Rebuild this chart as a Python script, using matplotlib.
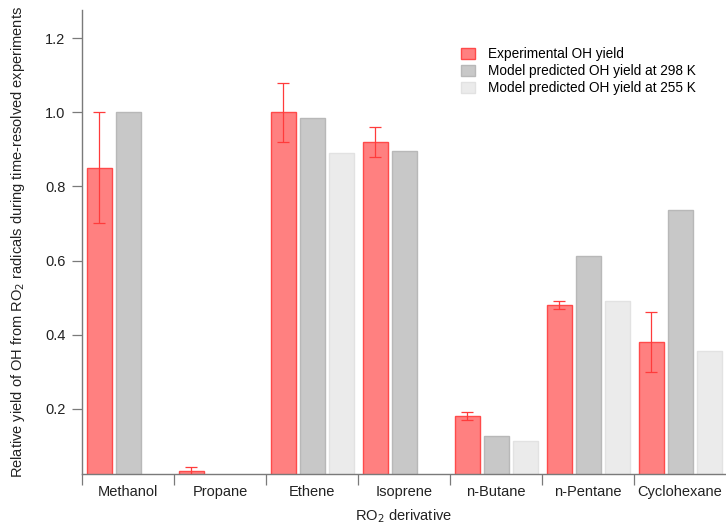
import numpy as np
import matplotlib
matplotlib.use('Agg')
import matplotlib.pyplot as plt
from matplotlib.patches import Patch

plt.rcParams['font.family'] = ['Liberation Sans', 'DejaVu Sans']

categories = ['Methanol', 'Propane', 'Ethene', 'Isoprene', 'n-Butane', 'n-Pentane', 'Cyclohexane']
exp_yield = [0.85, 0.032, 1.00, 0.92, 0.18, 0.48, 0.38]
exp_err = [0.15, 0.01, 0.08, 0.04, 0.01, 0.01, 0.08]
model_298 = [1.00, np.nan, 0.985, 0.895, 0.127, 0.613, 0.735]
model_255 = [np.nan, np.nan, 0.89, np.nan, 0.114, 0.49, 0.357]
y_ticks = [0.2, 0.4, 0.6, 0.8, 1.0, 1.2]

fig = plt.figure(figsize=(7.26, 5.25), dpi=100)
ax = fig.add_axes([82 / 726, 51 / 525, 644 / 726, 464 / 525])

x = np.arange(len(categories))
width = 0.272
step = 0.315
shift = 0.005

# bars start at zero; the axis floor sits slightly above it
ax.bar(x - step + shift, exp_yield, width, color='#ff8080', edgecolor='#ff4a4a', linewidth=1.0, zorder=2)
ax.bar(x + shift, model_298, width, color='#c8c8c8', edgecolor='#b8b8b8', linewidth=1.0, zorder=2)
ax.bar(x + step + shift, model_255, width, color='#ebebeb', edgecolor='#e2e2e2', linewidth=1.0, zorder=2)
ax.errorbar(x - step + shift, exp_yield, yerr=exp_err, fmt='none', ecolor='#ff3b3b',
            elinewidth=0.9, capsize=4.5, capthick=0.9, zorder=3)

ax.set_xlim(-0.5, len(categories) - 0.5)
ax.set_ylim(0.024, 1.276)

for s in ['top', 'right']:
    ax.spines[s].set_visible(False)
for s in ['left', 'bottom']:
    ax.spines[s].set_color('#7a7a7a')
    ax.spines[s].set_linewidth(1.0)

ax.set_yticks(y_ticks)
ax.set_yticklabels([f'{v:.1f}' for v in y_ticks])
ax.tick_params(axis='y', direction='out', length=7, width=0.9, color='#7a7a7a',
               labelsize=10.5, pad=5, labelcolor='#222222')

# category labels centered, separator ticks between groups
ax.set_xticks(x)
ax.set_xticklabels(categories)
ax.set_xticks(np.arange(len(categories)) - 0.5, minor=True)
ax.tick_params(axis='x', which='major', length=0, labelsize=10.5, pad=8, labelcolor='#222222')
ax.tick_params(axis='x', which='minor', direction='out', length=8, width=0.9, color='#7a7a7a')

ax.set_xlabel('RO$_2$ derivative', fontsize=10.5, color='#222222')
ax.xaxis.set_label_coords(0.5, -0.072)
ax.set_ylabel('Relative yield of OH from RO$_2$ radicals during time-resolved experiments',
              fontsize=10.5, labelpad=13, color='#222222')

handles = [
    Patch(facecolor='#ff8080', edgecolor='#ff4a4a', label='Experimental OH yield'),
    Patch(facecolor='#c8c8c8', edgecolor='#b8b8b8', label='Model predicted OH yield at 298 K'),
    Patch(facecolor='#ebebeb', edgecolor='#e2e2e2', label='Model predicted OH yield at 255 K'),
]
ax.legend(handles=handles, loc='upper left', bbox_to_anchor=(0.58, 0.932), frameon=False,
          fontsize=9.8, handlelength=1.05, handleheight=0.85, handletextpad=0.95,
          labelspacing=0.22, borderaxespad=0)

fig.savefig('out.png', dpi=100)
